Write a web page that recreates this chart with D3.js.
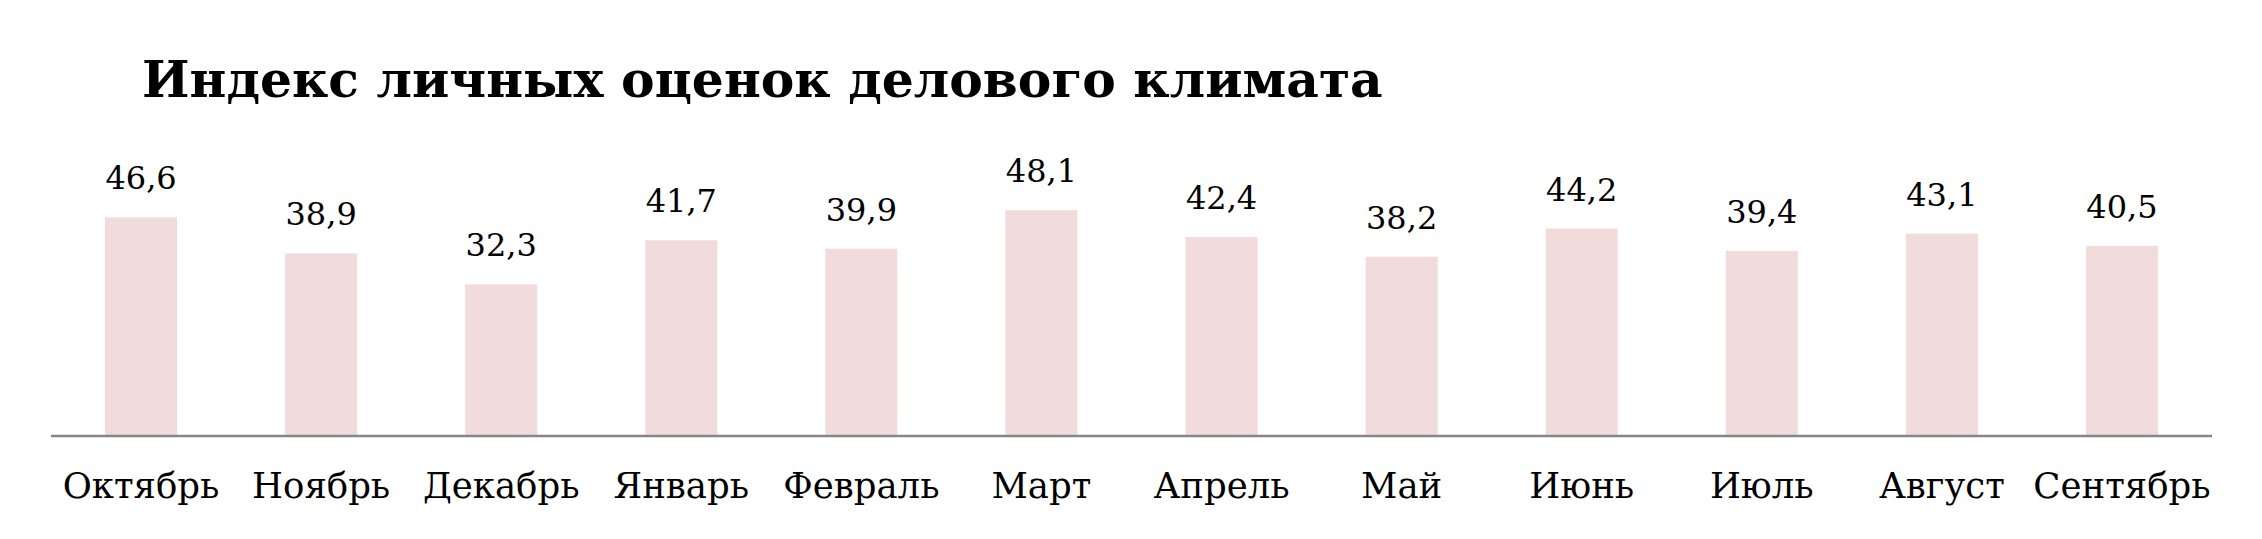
<!DOCTYPE html>
<html><head><meta charset="utf-8">
<script src="https://cdn.jsdelivr.net/npm/d3@7"></script>
<style>body{margin:0;background:#fff}svg{display:block}</style>
</head><body>
<svg id="c" width="2262" height="539"></svg>
<script>
const title = "Индекс личных оценок делового климата";
const months = ["Октябрь","Ноябрь","Декабрь","Январь","Февраль","Март","Апрель","Май","Июнь","Июль","Август","Сентябрь"];
const values = [46.6,38.9,32.3,41.7,39.9,48.1,42.4,38.2,44.2,39.4,43.1,40.5];

const svg = d3.select("#c");
const W = 2262, H = 539;
const axisY = 436, left = 51, right = 2212;

const x = d3.scaleBand().domain(months).range([left, right]).paddingInner(0.6).paddingOuter(0.3);
const y = d3.scaleLinear().domain([0, 50]).range([axisY, axisY - 4.694 * 50]);
const fmt = d3.formatLocale({decimal: ",", thousands: " ", grouping: [3], currency: ["", ""]}).format(".1f");

svg.append("rect").attr("width", W).attr("height", H).attr("fill", "#fff");

const t = svg.append("text").text(title)
  .attr("x", 142).attr("y", 97)
  .attr("font-family", "'DejaVu Serif', serif").attr("font-weight", "bold")
  .attr("font-size", 50).attr("fill", "#000");
const tw = t.node().getComputedTextLength();
t.attr("font-size", 50 * 1241 / tw);

svg.selectAll("rect.bar").data(values).join("rect").attr("class", "bar")
  .attr("x", (d, i) => x(months[i]))
  .attr("width", x.bandwidth())
  .attr("y", d => y(d))
  .attr("height", d => y(0) - y(d))
  .attr("fill", "#f2dcdb");

svg.append("line").attr("x1", left).attr("x2", right).attr("y1", axisY).attr("y2", axisY)
  .attr("stroke", "#868686").attr("stroke-width", 2.5);

svg.selectAll("text.val").data(values).join("text").attr("class", "val")
  .attr("x", (d, i) => x(months[i]) + x.bandwidth() / 2)
  .attr("y", d => y(d) - 28)
  .attr("text-anchor", "middle")
  .attr("font-family", "'DejaVu Serif', serif").attr("font-size", 32)
  .attr("fill", "#000")
  .text(d => fmt(d));

svg.selectAll("text.cat").data(months).join("text").attr("class", "cat")
  .attr("x", d => x(d) + x.bandwidth() / 2)
  .attr("y", 498)
  .attr("text-anchor", "middle")
  .attr("font-family", "'DejaVu Serif', serif").attr("font-size", 35.5)
  .attr("fill", "#000")
  .text(d => d);
</script>
</body></html>
